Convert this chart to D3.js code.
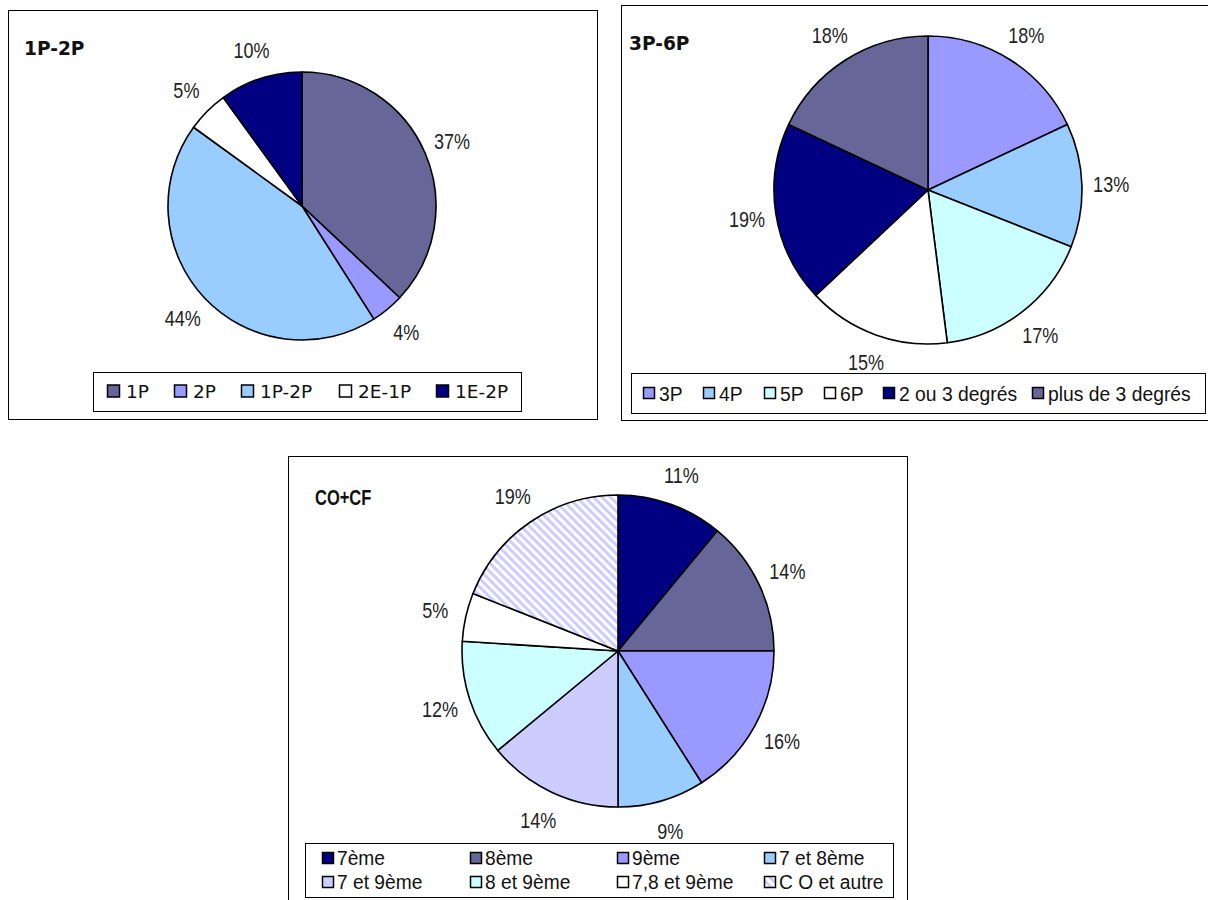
<!DOCTYPE html>
<html>
<head>
<meta charset="utf-8">
<script src="https://cdn.jsdelivr.net/npm/d3@7"></script>
<style>
  body { margin: 0; background: #fff; }
  svg { display: block; }
</style>
</head>
<body>
<svg width="1208" height="900"></svg>
<script>
// ---- data ----
var cats1 = ["1P", "2P", "1P-2P", "2E-1P", "1E-2P"];
var vals1 = [37, 4, 44, 5, 10];

var cats2 = ["3P", "4P", "5P", "6P", "2 ou 3 degrés", "plus de 3 degrés"];
var vals2 = [18, 13, 17, 15, 19, 18];

var cats3 = ["7ème", "8ème", "9ème", "7 et 8ème", "7 et 9ème", "8 et 9ème", "7,8 et 9ème", "C O et autre"];
var vals3 = [11, 14, 16, 9, 14, 12, 5, 19];

// ---- colours ----
var cols1 = ["#666699", "#9999ff", "#99ccff", "#ffffff", "#000080"];
var cols2 = ["#9999ff", "#99ccff", "#ccffff", "#ffffff", "#000080", "#666699"];
var cols3 = ["#000080", "#666699", "#9999ff", "#99ccff", "#ccccff", "#ccffff", "#ffffff", "url(#hatch)"];

// no Arial Narrow here: squeeze Liberation Sans horizontally instead
var narrow = "'Liberation Sans', Arial, sans-serif";
var squeeze = 0.82;
var tahoma = "'DejaVu Sans', Tahoma, sans-serif";

var svg = d3.select("svg");

// diagonal hatch for "CO et autre"
var pat = svg.append("defs").append("pattern")
    .attr("id", "hatch")
    .attr("patternUnits", "userSpaceOnUse")
    .attr("width", 6)
    .attr("height", 6)
    .attr("patternTransform", "rotate(-45)");
pat.append("rect").attr("width", 6).attr("height", 6).attr("fill", "#fff");
pat.append("rect").attr("width", 3).attr("height", 6).attr("fill", "#ccccff");

function drawChart(o) {
    var g = svg.append("g");

    // outer frame
    g.append("rect")
        .attr("x", o.box[0] + 0.5).attr("y", o.box[1] + 0.5)
        .attr("width", o.box[2]).attr("height", o.box[3])
        .attr("fill", "#fff").attr("stroke", "#000").attr("stroke-width", 1);

    g.append("text")
        .attr("transform", "translate(" + o.titlePos + ") scale(" + o.titleSx + ",1)")
        .attr("font-family", o.titleFont)
        .attr("font-size", o.titleSize)
        .attr("font-weight", "bold")
        .attr("fill", "#111")
        .text(o.title);

    // legend
    var L = o.legend;
    g.append("rect")
        .attr("x", L.box[0] + 0.5).attr("y", L.box[1] + 0.5)
        .attr("width", L.box[2]).attr("height", L.box[3])
        .attr("fill", "#fff").attr("stroke", "#000").attr("stroke-width", 1);

    var items = g.selectAll(".leg")
        .data(o.cats)
        .enter()
        .append("g")
        .attr("transform", function (d, i) {
            return "translate(" + L.xs[i % L.xs.length] + "," + L.ys[Math.floor(i / L.xs.length)] + ")";
        });
    items.append("rect")
        .attr("x", 0.5).attr("y", -L.sq / 2)
        .attr("width", L.sq).attr("height", L.sq)
        .attr("fill", function (d, i) { return o.colors[i]; })
        .attr("stroke", "#000")
        .attr("stroke-width", 1.5);
    items.append("text")
        .attr("transform", "translate(" + (L.sq + L.gap) + ",0) scale(" + L.sx + ",1)")
        .attr("dy", "0.36em")
        .attr("font-family", L.font)
        .attr("font-size", L.size)
        .attr("fill", "#111")
        .text(function (d) { return d; });

    // pie
    var pie = d3.pie().sort(null).value(function (d) { return d; });
    var arcs = pie(o.values);
    var arc = d3.arc().innerRadius(0).outerRadius(o.r);
    var labelArc = d3.arc().innerRadius(o.r * o.lab).outerRadius(o.r * o.lab);

    var pg = g.append("g").attr("transform", "translate(" + o.center + ")");
    pg.selectAll("path")
        .data(arcs)
        .enter()
        .append("path")
        .attr("d", arc)
        .attr("fill", function (d, i) { return o.colors[i]; })
        .attr("stroke", "#000")
        .attr("stroke-width", 1.6)
        .attr("stroke-linejoin", "round");

    pg.selectAll("text")
        .data(arcs)
        .enter()
        .append("text")
        .attr("transform", function (d) {
            return "translate(" + labelArc.centroid(d) + ") scale(" + squeeze + ",1)";
        })
        .attr("text-anchor", "middle")
        .attr("dy", "0.36em")
        .attr("font-family", narrow)
        .attr("font-size", 22)
        .attr("fill", "#222")
        .text(function (d) { return d.value + "%"; });
}

drawChart({
    box: [8, 10, 589, 409],
    title: "1P-2P", titlePos: [24, 55], titleFont: tahoma, titleSize: 20, titleSx: 0.93,
    center: [302, 206], r: 134, lab: 1.22,
    cats: cats1, values: vals1, colors: cols1,
    legend: { box: [93, 372, 428, 39], xs: [107, 174, 241, 339, 436], ys: [391], sq: 12, gap: 7,
              font: tahoma, size: 18.5, sx: 1 }
});

drawChart({
    box: [621, 5, 600, 415],
    title: "3P-6P", titlePos: [629, 50], titleFont: tahoma, titleSize: 20, titleSx: 0.93,
    center: [928, 190], r: 154, lab: 1.19,
    cats: cats2, values: vals2, colors: cols2,
    legend: { box: [631, 373, 574, 40], xs: [643, 703, 764, 824, 883, 1032], ys: [393], sq: 11, gap: 5,
              font: narrow, size: 21, sx: 0.92 }
});

drawChart({
    box: [288, 456, 619, 460],
    title: "CO+CF", titlePos: [315, 505], titleFont: narrow, titleSize: 22, titleSx: 0.75,
    center: [618, 651], r: 156, lab: 1.2,
    cats: cats3, values: vals3, colors: cols3,
    legend: { box: [305, 843, 588, 54], xs: [322, 470, 617, 764], ys: [858, 882], sq: 11, gap: 4,
              font: narrow, size: 20, sx: 0.96 }
});
</script>
</body>
</html>
